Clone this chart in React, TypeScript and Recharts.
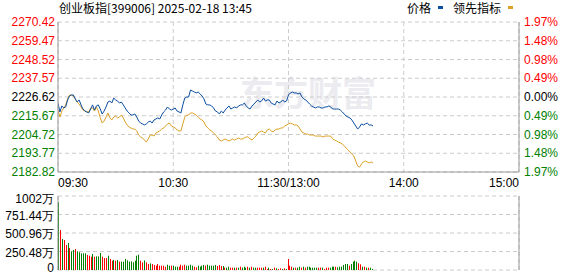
import React from 'react';
import { ComposedChart, Line, XAxis, YAxis, CartesianGrid, BarChart, Bar } from 'recharts';

const PREV_CLOSE = 2226.62;
const priceTicks = [2182.82, 2193.77, 2204.72, 2215.67, 2226.62, 2237.57, 2248.52, 2259.47, 2270.42];
const volTicks = [0, 250.48, 500.96, 751.44, 1002];
const xTicks = [0, 60, 120, 180, 240];
const xTickLabels = ['09:30', '10:30', '11:30/13:00', '14:00', '15:00'];
const volGridTicks = [60, 120, 180];

const price = [
  2223.1, 2217.9, 2221.4, 2220.2, 2220.8, 2224.9, 2227.2, 2227.8, 2227.8, 2225.5,
  2223.7, 2224.9, 2222.0, 2219.6, 2218.4, 2217.9, 2217.3, 2219.6, 2222.0, 2219.0,
  2221.4, 2222.0, 2219.6, 2216.7, 2218.4, 2220.8, 2223.7, 2224.3, 2223.1, 2226.0,
  2224.9, 2224.3, 2223.1, 2223.7, 2222.0, 2220.2, 2218.4, 2217.3, 2216.1, 2216.1,
  2216.7, 2214.9, 2212.6, 2211.4, 2210.9, 2210.3, 2210.9, 2212.0, 2212.6, 2211.4,
  2213.2, 2213.8, 2214.4, 2213.8, 2216.1, 2217.9, 2219.0, 2220.8, 2219.6, 2219.0,
  2219.6, 2220.2, 2218.4, 2217.9, 2217.3, 2222.0, 2226.0, 2226.6, 2226.6, 2230.7,
  2230.1, 2229.5, 2229.0, 2229.5, 2228.4, 2227.2, 2225.5, 2222.5, 2222.0, 2222.0,
  2221.4, 2220.2, 2218.4, 2217.9, 2216.7, 2218.4, 2217.3, 2219.0, 2220.2, 2221.4,
  2219.6, 2220.2, 2220.8, 2220.2, 2221.4, 2222.0, 2222.0, 2223.1, 2221.4, 2220.2,
  2219.6, 2221.4, 2222.5, 2223.7, 2224.9, 2223.7, 2224.3, 2226.0, 2224.3, 2224.9,
  2224.9, 2223.1, 2222.5, 2222.0, 2224.3, 2223.1, 2223.7, 2224.9, 2223.7, 2224.3,
  2227.8, 2229.0, 2229.5, 2229.0, 2229.0, 2228.4, 2229.0, 2226.6, 2225.5, 2224.9,
  2223.7, 2222.5, 2221.4, 2220.8, 2220.2, 2220.8, 2220.8, 2220.2, 2220.2, 2220.8,
  2220.8, 2221.4, 2220.8, 2219.6, 2219.6, 2219.6, 2219.6, 2219.0, 2217.9, 2216.7,
  2215.5, 2214.9, 2214.4, 2213.2, 2211.4, 2209.7, 2207.9, 2209.1, 2210.9, 2210.3,
  2210.9, 2211.4, 2210.3, 2210.3, 2209.7,
];

const lead = [
  2219.0, 2214.9, 2218.4, 2220.2, 2222.0, 2225.5, 2227.8, 2227.8, 2227.2, 2225.5,
  2223.7, 2222.5, 2220.8, 2219.0, 2218.4, 2217.9, 2217.9, 2220.2, 2220.2, 2218.4,
  2220.8, 2218.4, 2214.4, 2211.4, 2212.6, 2214.9, 2217.3, 2214.4, 2213.2, 2214.9,
  2215.5, 2214.4, 2214.9, 2216.1, 2214.4, 2212.0, 2210.3, 2209.1, 2208.5, 2207.9,
  2207.9, 2206.8, 2204.4, 2203.3, 2202.7, 2201.5, 2200.3, 2202.1, 2204.4, 2204.4,
  2203.8, 2205.6, 2206.2, 2206.8, 2207.9, 2208.5, 2209.7, 2210.9, 2211.4, 2209.7,
  2209.1, 2208.5, 2207.4, 2206.8, 2206.8, 2210.9, 2214.9, 2216.1, 2216.1, 2217.3,
  2217.3, 2216.7, 2216.1, 2214.9, 2213.8, 2213.2, 2212.0, 2209.7, 2208.5, 2207.4,
  2206.8, 2205.6, 2204.4, 2203.3, 2201.5, 2200.9, 2201.5, 2202.1, 2201.5, 2200.9,
  2201.5, 2202.1, 2201.5, 2202.1, 2202.7, 2202.1, 2202.1, 2202.7, 2203.3, 2203.3,
  2202.1, 2201.5, 2202.7, 2203.8, 2205.6, 2206.2, 2206.8, 2206.2, 2205.6, 2207.4,
  2207.9, 2206.8, 2206.2, 2207.4, 2207.9, 2207.9, 2208.5, 2208.5, 2209.7, 2210.3,
  2210.9, 2211.4, 2210.9, 2210.3, 2210.3, 2209.7, 2207.9, 2206.2, 2205.6, 2205.0,
  2205.0, 2204.4, 2204.4, 2204.4, 2203.8, 2203.8, 2203.8, 2203.8, 2203.3, 2203.8,
  2203.8, 2203.8, 2203.8, 2202.1, 2201.5, 2200.9, 2200.3, 2199.8, 2199.2, 2198.0,
  2196.8, 2195.7, 2194.5, 2193.3, 2192.2, 2189.2, 2186.3, 2185.7, 2187.5, 2188.7,
  2189.2, 2188.7, 2188.1, 2188.7, 2188.1,
];

// volume in 万
const volume = [
  917, 542, 420, 406, 339, 366, 298, 253, 271, 284,
  253, 240, 226, 226, 226, 203, 194, 180, 217, 180,
  185, 185, 230, 180, 162, 162, 194, 149, 126, 135,
  126, 135, 113, 113, 113, 149, 130, 113, 117, 104,
  126, 194, 207, 126, 104, 130, 104, 81, 90, 81,
  68, 59, 81, 59, 59, 59, 45, 72, 59, 59,
  59, 45, 45, 45, 72, 59, 72, 59, 59, 72,
  59, 45, 36, 59, 45, 59, 68, 59, 72, 59,
  59, 59, 68, 54, 68, 54, 54, 32, 32, 45,
  32, 32, 32, 32, 32, 45, 32, 45, 32, 45,
  32, 45, 32, 32, 32, 32, 32, 32, 45, 14,
  32, 14, 14, 32, 23, 14, 23, 14, 23, 14,
  149, 59, 45, 32, 32, 32, 45, 32, 45, 32,
  45, 45, 32, 32, 32, 32, 32, 32, 32, 14,
  32, 32, 32, 45, 45, 45, 36, 45, 45, 68,
  81, 81, 59, 81, 113, 126, 113, 90, 77, 45,
  45, 32, 32, 32, 14,
];

// 1 = up (red), 0 = down (green)
const volUp = [
  0, 1, 0, 1, 1, 0, 1, 0, 0, 1,
  0, 0, 0, 0, 0, 1, 1, 1, 0, 1,
  0, 0, 0, 1, 1, 1, 0, 1, 1, 0,
  1, 0, 1, 0, 0, 0, 0, 0, 0, 0,
  0, 0, 0, 1, 1, 0, 1, 1, 0, 1,
  1, 1, 1, 1, 1, 1, 1, 0, 0, 1,
  0, 0, 0, 1, 1, 1, 1, 0, 0, 0,
  0, 1, 1, 0, 0, 0, 0, 1, 0, 0,
  0, 0, 0, 1, 1, 1, 0, 1, 0, 0,
  1, 1, 0, 1, 0, 1, 0, 0, 0, 1,
  0, 1, 0, 0, 1, 1, 1, 0, 1, 1,
  0, 1, 0, 1, 0, 1, 1, 0, 1, 0,
  1, 1, 1, 0, 1, 0, 0, 1, 0, 1,
  0, 0, 0, 0, 0, 0, 1, 1, 0, 1,
  1, 1, 0, 0, 0, 1, 0, 0, 0, 0,
  0, 0, 1, 0, 0, 0, 0, 1, 1, 0,
  1, 0, 1, 0, 0,
];

const mainData = price.map((p, i) => ({ i, price: p, lead: lead[i] }));
const volData = volume.map((v, i) => ({ i, vol: v, up: volUp[i] }));

const NUM_FONT = '"Liberation Sans", Arial, sans-serif';
const CJK_FONT = '"Noto Sans CJK SC", "Noto Sans", sans-serif';
const BLUE = '#0b4ea2';
const ORANGE = '#dca126';
const BORDER = '#999999';
const GRID = '#cccccc';

const colorFor = (v: number) =>
  v > PREV_CLOSE + 0.001 ? '#ff0000' : v < PREV_CLOSE - 0.001 ? '#008000' : '#000000';

const PriceTick = (props: any) => {
  const { x, y, payload } = props;
  const v = payload.value;
  return (
    <text x={x} y={y} dy={4} textAnchor="end" fill={colorFor(v)} fontSize={12} fontFamily={NUM_FONT}>
      {v.toFixed(2)}
    </text>
  );
};

const PctTick = (props: any) => {
  const { x, y, payload } = props;
  const v = payload.value;
  const pct = ((v - PREV_CLOSE) / PREV_CLOSE) * 100;
  return (
    <text x={x} y={y} dy={4} textAnchor="start" fill={colorFor(v)} fontSize={12} fontFamily={NUM_FONT}>
      {Math.abs(pct).toFixed(2) + '%'}
    </text>
  );
};

const TimeTick = (props: any) => {
  const { x, y, payload } = props;
  const idx = xTicks.indexOf(payload.value);
  const anchor = idx === 0 ? 'start' : idx === xTicks.length - 1 ? 'end' : 'middle';
  return (
    <text x={x} y={y} dy={9} textAnchor={anchor} fill="#000" fontSize={12} fontFamily={NUM_FONT}>
      {xTickLabels[idx]}
    </text>
  );
};

const VolTick = (props: any) => {
  const { x, y, payload } = props;
  const v = payload.value;
  const top = v === volTicks[volTicks.length - 1];
  const dy = top ? 7 : v === 0 ? 2 : 5;
  return (
    <text x={x} y={y} dy={dy} textAnchor="end" fill="#000" fontSize={12} fontFamily={NUM_FONT}>
      {v === 0 ? '0' : v + '万'}
    </text>
  );
};

const VolBar = (props: any) => {
  const { x, y, width, height, payload } = props;
  if (!height || height <= 0) return null;
  const cx = x + width / 2;
  return (
    <rect
      x={Math.round(cx - 0.5)}
      y={y}
      width={1}
      height={height}
      fill={payload.up ? '#ff0000' : '#008000'}
    />
  );
};

export default function App() {
  return (
    <div style={{ position: 'absolute', left: 0, top: 0, width: 578, height: 276, background: '#fff', overflow: 'hidden' }}>
      <div style={{ position: 'absolute', left: 59, top: 1, fontSize: 12, lineHeight: '14px', fontFamily: CJK_FONT, color: '#000', whiteSpace: 'nowrap' }}>
        创业板指[399006] 2025-02-18 13:45
      </div>
      <div style={{ position: 'absolute', left: 407, top: 1, fontSize: 12, lineHeight: '14px', fontFamily: CJK_FONT, color: '#000' }}>价格</div>
      <div style={{ position: 'absolute', left: 438, top: 6, width: 5, height: 3, background: BLUE }} />
      <div style={{ position: 'absolute', left: 453, top: 1, fontSize: 12, lineHeight: '14px', fontFamily: CJK_FONT, color: '#000' }}>领先指标</div>
      <div style={{ position: 'absolute', left: 508, top: 6, width: 5, height: 3, background: ORANGE }} />
      <div style={{ position: 'absolute', left: 240, top: 72, fontSize: 34, lineHeight: '40px', fontWeight: 700, fontFamily: CJK_FONT, color: '#ebebf0', whiteSpace: 'nowrap' }}>
        东方财富
      </div>

      <div style={{ position: 'absolute', left: 0, top: 0 }}>
        <ComposedChart width={578} height={190} data={mainData} margin={{ top: 22, right: 0, bottom: 0, left: 0 }}>
          <CartesianGrid stroke={GRID} strokeDasharray="4 3" />
          <XAxis
            dataKey="i"
            type="number"
            domain={[0, 240]}
            ticks={xTicks}
            interval={0}
            height={18}
            tickLine={false}
            tickSize={4}
            tickMargin={2}
            axisLine={{ stroke: BORDER }}
            tick={<TimeTick />}
            allowDataOverflow
          />
          <XAxis
            xAxisId="top"
            orientation="top"
            dataKey="i"
            type="number"
            domain={[0, 240]}
            height={0}
            tick={false}
            tickLine={false}
            axisLine={{ stroke: BORDER }}
          />
          <YAxis
            type="number"
            domain={[priceTicks[0], priceTicks[priceTicks.length - 1]]}
            ticks={priceTicks}
            interval={0}
            width={58}
            tickLine={false}
            tickSize={3}
            tickMargin={0}
            axisLine={{ stroke: BORDER }}
            tick={<PriceTick />}
            allowDataOverflow
          />
          <YAxis
            yAxisId="r"
            orientation="right"
            type="number"
            domain={[priceTicks[0], priceTicks[priceTicks.length - 1]]}
            ticks={priceTicks}
            interval={0}
            width={59}
            tickLine={false}
            tickSize={5}
            tickMargin={0}
            axisLine={{ stroke: BORDER }}
            tick={<PctTick />}
            allowDataOverflow
          />
          <Line type="linear" dataKey="lead" stroke={ORANGE} strokeWidth={1} dot={false} isAnimationActive={false} />
          <Line type="linear" dataKey="price" stroke={BLUE} strokeWidth={1} dot={false} isAnimationActive={false} />
        </ComposedChart>
      </div>

      <div style={{ position: 'absolute', left: 0, top: 190 }}>
        <BarChart width={578} height={86} data={volData} margin={{ top: 6, right: 0, bottom: 6, left: 0 }} barCategoryGap={0}>
          <CartesianGrid stroke={GRID} strokeDasharray="4 3" />
          <XAxis
            dataKey="i"
            type="number"
            domain={[-0.5, 240.5]}
            ticks={volGridTicks}
            height={0}
            tick={false}
            tickLine={false}
            axisLine={{ stroke: BORDER }}
            allowDataOverflow
          />
          <XAxis
            xAxisId="top"
            orientation="top"
            dataKey="i"
            type="number"
            domain={[-0.5, 240.5]}
            height={0}
            tick={false}
            tickLine={false}
            axisLine={{ stroke: BORDER }}
          />
          <YAxis
            type="number"
            domain={[0, volTicks[volTicks.length - 1]]}
            ticks={volTicks}
            interval={0}
            width={58}
            tickLine={false}
            tickSize={4}
            tickMargin={0}
            axisLine={{ stroke: BORDER }}
            tick={<VolTick />}
            allowDataOverflow
          />
          <YAxis
            yAxisId="r"
            orientation="right"
            type="number"
            domain={[0, volTicks[volTicks.length - 1]]}
            width={59}
            tick={false}
            tickLine={false}
            axisLine={{ stroke: BORDER }}
          />
          <Bar dataKey="vol" barSize={1} shape={<VolBar />} isAnimationActive={false} />
        </BarChart>
      </div>
    </div>
  );
}
